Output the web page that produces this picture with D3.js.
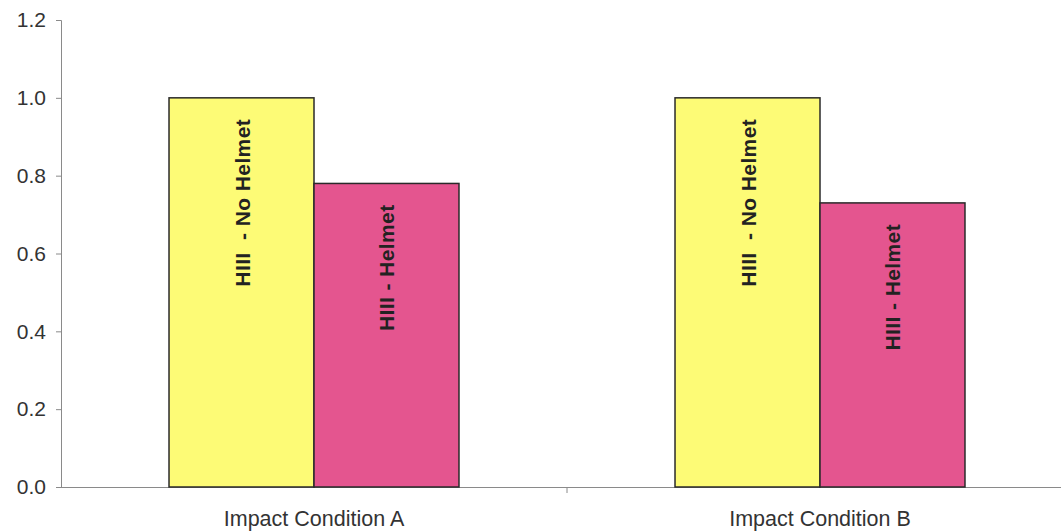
<!DOCTYPE html>
<html>
<head>
<meta charset="utf-8">
<script src="https://cdn.jsdelivr.net/npm/d3@7"></script>
<style>
  body { margin: 0; background: #fff; }
  text { font-family: "Liberation Sans", Arial, sans-serif; }
</style>
</head>
<body>
<div id="chart-container"></div>
<script>
// chart data
const categories = ["Impact Condition A", "Impact Condition B"];
const seriesNames = ["HIII  - No Helmet", "HIII - Helmet"];
const noHelmet = [1.0, 1.0];
const helmet = [0.78, 0.73];
const yTicks = [0, 0.2, 0.4, 0.6, 0.8, 1.0, 1.2];
const colors = ["#fdfb76", "#e4558f"];

const W = 1061, H = 532;
const margin = { top: 20, left: 61, bottom: 45 };

const svg = d3
  .select("#chart-container")
  .append("svg")
  .attr("width", W)
  .attr("height", H);

// y scale and axis
const y = d3.scaleLinear().domain([0, 1.2]).range([H - margin.bottom, margin.top]);
const yAxis = d3.axisLeft(y).tickValues(yTicks).tickFormat(d3.format(".1f")).tickSize(5).tickPadding(10);
const gy = svg.append("g").attr("transform", `translate(${margin.left},0)`).call(yAxis);
gy.select(".domain").attr("stroke", "#8a8a8a");
gy.selectAll(".tick line").attr("stroke", "#8a8a8a");
gy.selectAll(".tick text").attr("font-size", 21).attr("fill", "#333");

// x scale and axis (second band runs past the right edge)
const x = d3.scaleBand().domain(categories).range([margin.left, 1073]);
const inner = d3.scaleBand().domain([0, 1]).range([0, x.bandwidth()]).paddingOuter(0.745).paddingInner(0);

svg
  .append("line")
  .attr("x1", margin.left)
  .attr("x2", W)
  .attr("y1", y(0) + 0.5)
  .attr("y2", y(0) + 0.5)
  .attr("stroke", "#8a8a8a");
svg
  .selectAll(".xtick")
  .data(categories.slice(1))
  .enter()
  .append("line")
  .attr("x1", (d) => x(d))
  .attr("x2", (d) => x(d))
  .attr("y1", y(0))
  .attr("y2", y(0) + 6)
  .attr("stroke", "#8a8a8a");
svg
  .selectAll(".xlabel")
  .data(categories)
  .enter()
  .append("text")
  .attr("x", (d) => x(d) + x.bandwidth() / 2)
  .attr("y", y(0) + 39)
  .attr("text-anchor", "middle")
  .attr("font-size", 21.5)
  .attr("fill", "#333")
  .text((d) => d);

// bars
const rows = [];
categories.forEach((c, i) => {
  rows.push({ cat: c, s: 0, v: noHelmet[i] });
  rows.push({ cat: c, s: 1, v: helmet[i] });
});

svg
  .selectAll(".bar")
  .data(rows)
  .enter()
  .append("rect")
  .attr("x", (d) => x(d.cat) + inner(d.s))
  .attr("y", (d) => y(d.v))
  .attr("width", inner.bandwidth())
  .attr("height", (d) => y(0) - y(d.v))
  .attr("fill", (d) => colors[d.s])
  .attr("stroke", "#2a2a2a")
  .attr("stroke-width", 1.5);

svg
  .selectAll(".barlabel")
  .data(rows)
  .enter()
  .append("text")
  .attr("transform", (d) => `translate(${x(d.cat) + inner(d.s) + inner.bandwidth() / 2 + 8},${y(d.v) + 21}) rotate(-90)`)
  .attr("text-anchor", "end")
  .attr("font-size", 21)
  .attr("font-weight", "bold")
  .attr("letter-spacing", 0.4)
  .attr("fill", "#222")
  .style("white-space", "pre")
  .text((d) => seriesNames[d.s]);
</script>
</body>
</html>
